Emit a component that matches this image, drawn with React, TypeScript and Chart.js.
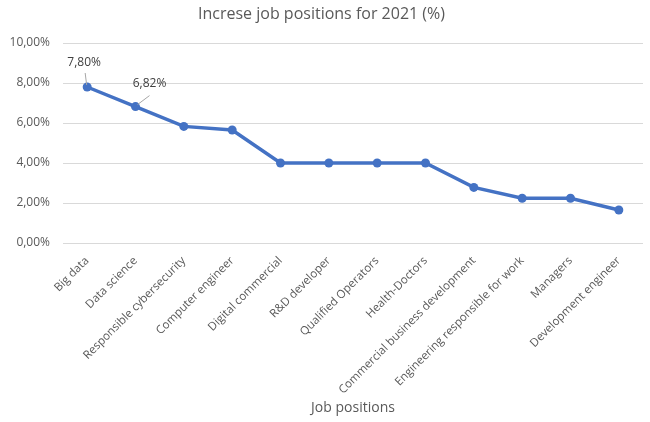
import { Chart, registerables } from 'chart.js'
import { useEffect, useRef } from 'react'

Chart.register(...registerables)

const positions = [
  'Big data',
  'Data science',
  'Responsible cybersecurity',
  'Computer engineer',
  'Digital commercial',
  'R&D developer',
  'Qualified Operators',
  'Health-Doctors',
  'Commercial business development',
  'Engineering responsible for work',
  'Managers',
  'Development engineer',
]

// percent
const increase = [7.8, 6.82, 5.83, 5.65, 4.0, 4.0, 4.0, 4.0, 2.78, 2.24, 2.24, 1.65]

// only the first two points carry a label in the original
const labelled = [0, 1]

const FONT = "'Open Sans', sans-serif"
const GREY = '#595959'

const fmt = (v: number) => v.toFixed(2).replace('.', ',') + '%'

// draws the two callout labels with their short leader lines
const calloutPlugin = {
  id: 'callouts',
  afterDatasetsDraw(chart: Chart) {
    const meta = chart.getDatasetMeta(0)
    const ctx = chart.ctx
    const offsets = [
      { dx: -3, dy: -24, lx: -2, ly: -14 },
      { dx: 14, dy: -23, lx: 14, ly: -11 },
    ]
    ctx.save()
    ctx.font = `12px ${FONT}`
    ctx.fillStyle = '#404040'
    ctx.textAlign = 'center'
    ctx.textBaseline = 'middle'
    ctx.strokeStyle = '#a6a6a6'
    ctx.lineWidth = 1
    labelled.forEach((i, k) => {
      const pt = meta.data[i]
      const o = offsets[k]
      ctx.beginPath()
      ctx.moveTo(pt.x + o.lx, pt.y + o.ly)
      ctx.lineTo(pt.x + (k === 0 ? -0.5 : 2), pt.y - 2)
      ctx.stroke()
      ctx.fillText(fmt(increase[i]), pt.x + o.dx, pt.y + o.dy)
    })
    ctx.restore()
  },
}

export default function App() {
  const canvasRef = useRef<HTMLCanvasElement>(null)

  useEffect(() => {
    document.body.style.margin = '0'
    if (!canvasRef.current) return
    const chart = new Chart(canvasRef.current, {
      type: 'line',
      data: {
        labels: positions,
        datasets: [
          {
            label: 'Increase',
            data: increase,
            borderColor: '#4472C4',
            backgroundColor: '#4472C4',
            borderWidth: 3.5,
            pointRadius: 4.5,
            pointBorderWidth: 0,
            tension: 0,
          },
        ],
      },
      options: {
        animation: false,
        responsive: false,
        layout: { padding: { right: 7, left: 0, top: 0, bottom: 0 } },
        plugins: {
          legend: { display: false },
          tooltip: { enabled: false },
          title: {
            display: true,
            text: 'Increse job positions for 2021 (%)',
            color: GREY,
            font: { family: FONT, size: 16, weight: 'normal' },
            padding: { top: 5, bottom: 18.8 },
          },
        },
        scales: {
          x: {
            offset: true,
            grid: { display: false },
            border: { display: false },
            ticks: {
              color: GREY,
              font: { family: FONT, size: 11.5 },
              minRotation: 45,
              maxRotation: 45,
              autoSkip: false,
            },
            title: {
              display: true,
              text: 'Job positions',
              color: GREY,
              font: { family: FONT, size: 14 },
              padding: { top: 0, bottom: 6 },
            },
            afterFit: (s: any) => {
              s.height = 179
            },
          },
          y: {
            min: 0,
            max: 10,
            border: { display: false },
            grid: { color: '#d9d9d9', drawTicks: false },
            ticks: {
              stepSize: 2,
              color: GREY,
              padding: 13,
              font: { family: FONT, size: 12 },
              callback: (v: any) => fmt(Number(v)),
            },
            afterFit: (s: any) => {
              s.width = 63
            },
          },
        },
      },
      plugins: [calloutPlugin],
    })
    return () => chart.destroy()
  }, [])

  return (
    <div style={{ width: 650, height: 422 }}>
      <canvas ref={canvasRef} width={650} height={422}></canvas>
    </div>
  )
}
